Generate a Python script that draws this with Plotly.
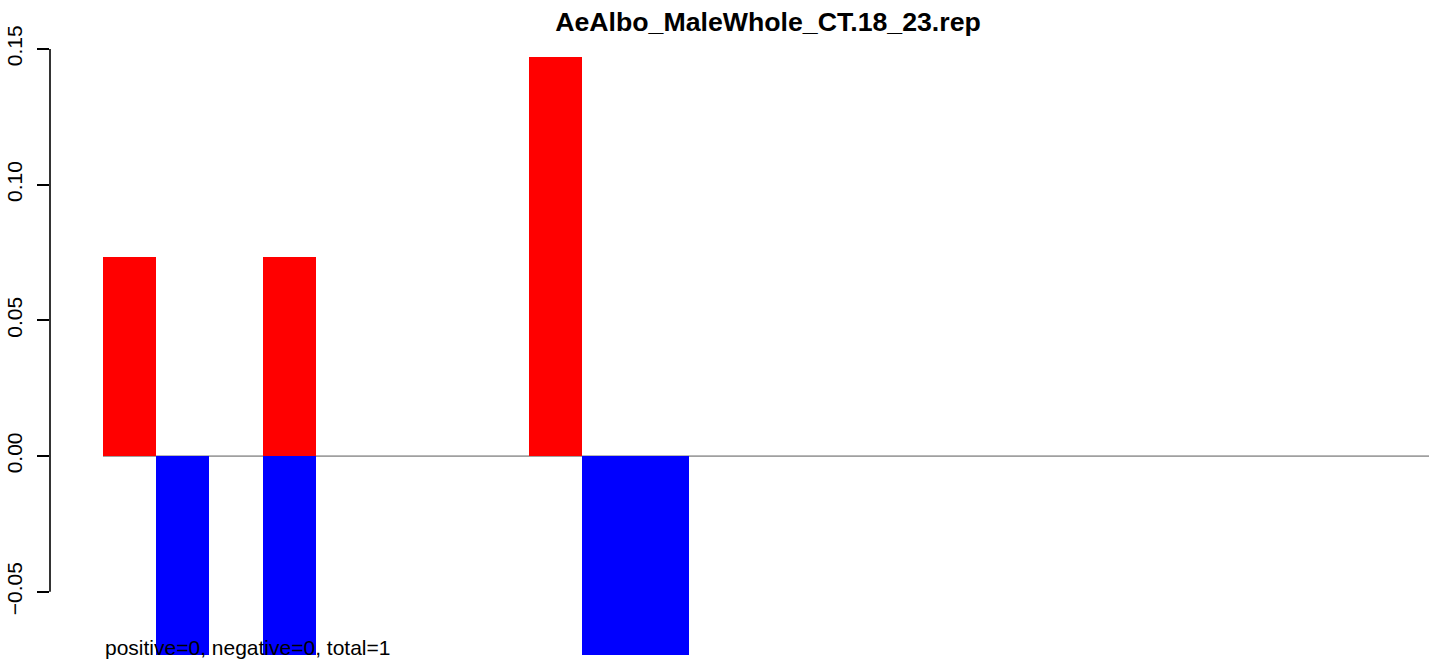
import plotly.graph_objects as go

# slot index of each bar position (R barplot slots)
slots = list(range(25))
# positive (red) and negative (blue) values per slot
pos_vals = [0.0735, 0, 0, 0.0735, 0, 0, 0, 0, 0.147, 0, 0, 0, 0,
            0, 0, 0, 0, 0, 0, 0, 0, 0, 0, 0, 0]
neg_vals = [0, -0.0735, 0, -0.0735, 0, 0, 0, 0, 0, -0.0735, -0.0735, 0, 0,
            0, 0, 0, 0, 0, 0, 0, 0, 0, 0, 0, 0]
y_ticks = [-0.05, 0.00, 0.05, 0.10, 0.15]
y_tick_labels = ["\u22120.05", "0.00", "0.05", "0.10", "0.15"]
title_text = "AeAlbo_MaleWhole_CT.18_23.rep"
note_text = "positive=0, negative=0, total=1"

FONT = "Liberation Sans, Arial, sans-serif"
W, H = 1429, 661

fig = go.Figure()
fig.add_trace(go.Bar(x=slots, y=pos_vals, width=1, marker=dict(color="#FF0000", line=dict(width=0)),
                     showlegend=False))
fig.add_trace(go.Bar(x=slots, y=neg_vals, width=1, marker=dict(color="#0000FF", line=dict(width=0)),
                     showlegend=False))

# zero reference line
fig.add_shape(type="line", xref="x", yref="y", x0=-0.5, x1=24.4, y0=0, y1=0,
              line=dict(color="#A0A0A0", width=1.7), layer="below")
# y axis line spanning only the tick range
fig.add_shape(type="line", xref="paper", yref="y", x0=0, x1=0, y0=y_ticks[0], y1=y_ticks[-1],
              line=dict(color="black", width=1.6))

fig.add_annotation(text=note_text, xref="x", yref="y", x=-0.5, y=-0.0707,
                   xanchor="left", yanchor="middle", showarrow=False,
                   font=dict(family=FONT, size=21, color="black"))

fig.update_layout(
    width=W, height=H,
    margin=dict(l=50, r=0, t=49, b=6, pad=0),
    paper_bgcolor="white", plot_bgcolor="white",
    barmode="overlay",
    bargap=0,
    font=dict(family=FONT, size=21, color="black"),
    title=dict(text="<b>" + title_text + "</b>", x=768 / W, xref="container", xanchor="center",
               y=1 - 22 / H, yref="container", yanchor="middle",
               font=dict(family=FONT, size=26.7, color="black")),
    xaxis=dict(range=[-1.495, 24.40], showticklabels=False, ticks="", showline=False,
               showgrid=False, zeroline=False, fixedrange=True),
    yaxis=dict(range=[-0.0733, 0.15], tickvals=y_ticks, ticktext=y_tick_labels,
               ticks="outside", ticklen=12, tickwidth=1.6, tickcolor="black",
               tickangle=-90, ticklabelstandoff=7, showline=False, showgrid=False, zeroline=False,
               tickfont=dict(family=FONT, size=21, color="black"), fixedrange=True),
)

fig.write_html("out.html", config={"displayModeBar": False},
               post_script="document.body.style.margin='0';document.body.style.overflow='hidden';")
